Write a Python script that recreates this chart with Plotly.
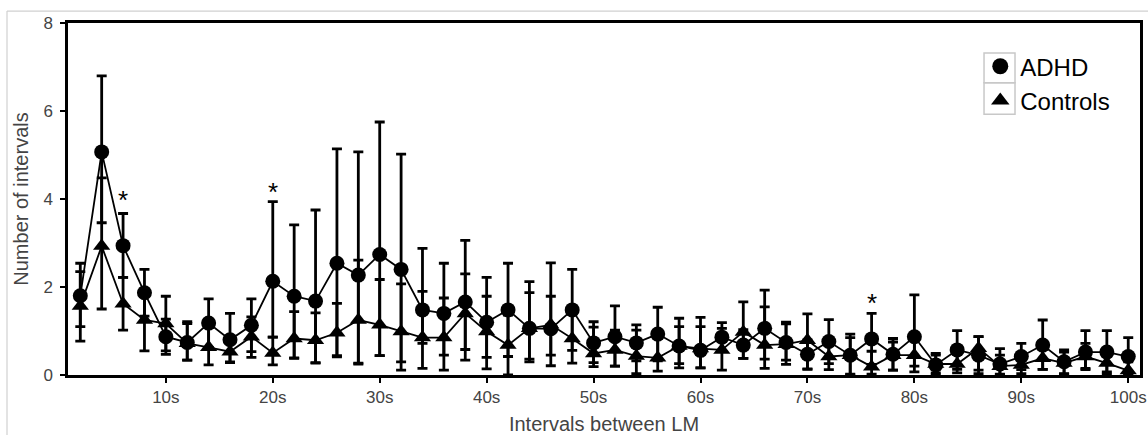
import plotly.graph_objects as go

intervals = list(range(2, 101, 2))
tick_vals = [10, 20, 30, 40, 50, 60, 70, 80, 90, 100]
tick_text = ["10s", "20s", "30s", "40s", "50s", "60s", "70s", "80s", "90s", "100s"]

adhd_mean = [1.80, 5.07, 2.94, 1.87, 0.87, 0.74, 1.18, 0.80, 1.13, 2.13,
             1.79, 1.68, 2.54, 2.27, 2.74, 2.40, 1.48, 1.40, 1.66, 1.20,
             1.48, 1.06, 1.05, 1.48, 0.73, 0.87, 0.73, 0.93, 0.66, 0.56,
             0.86, 0.68, 1.06, 0.74, 0.47, 0.76, 0.45, 0.82, 0.47, 0.87,
             0.23, 0.57, 0.45, 0.25, 0.42, 0.68, 0.30, 0.52, 0.52, 0.42]
adhd_err_plus = [0.74, 1.73, 0.73, 0.53, 0.40, 0.47, 0.55, 0.60, 0.60, 1.81,
                 1.62, 2.07, 2.60, 2.80, 3.01, 2.62, 1.40, 1.14, 1.40, 1.02,
                 1.06, 1.06, 1.50, 0.92, 0.48, 0.70, 0.41, 0.61, 0.63, 0.75,
                 0.33, 0.35, 0.87, 0.46, 0.33, 0.50, 0.48, 0.58, 0.36, 0.95,
                 0.26, 0.44, 0.42, 0.35, 0.30, 0.57, 0.27, 0.49, 0.49, 0.43]
adhd_err_minus = [0.70, 1.61, 0.72, 0.53, 0.40, 0.40, 0.55, 0.50, 0.60, 1.27,
                  1.40, 1.40, 2.10, 2.00, 2.30, 2.10, 0.76, 0.95, 1.08, 0.80,
                  1.06, 0.76, 0.60, 0.92, 0.45, 0.67, 0.41, 0.61, 0.50, 0.40,
                  0.33, 0.30, 0.70, 0.40, 0.33, 0.50, 0.45, 0.58, 0.36, 0.80,
                  0.23, 0.44, 0.42, 0.25, 0.30, 0.55, 0.27, 0.40, 0.45, 0.40]

ctrl_mean = [1.57, 2.93, 1.62, 1.25, 1.17, 0.72, 0.63, 0.53, 0.87, 0.50,
             0.83, 0.79, 0.96, 1.25, 1.14, 0.99, 0.85, 0.85, 1.40, 0.99,
             0.68, 1.06, 1.14, 0.83, 0.49, 0.57, 0.43, 0.39, 0.66, 0.60,
             0.57, 0.98, 0.68, 0.70, 0.79, 0.42, 0.45, 0.19, 0.45, 0.45,
             0.25, 0.25, 0.61, 0.20, 0.23, 0.38, 0.27, 0.42, 0.27, 0.10]
ctrl_err_plus = [0.78, 1.55, 0.60, 0.70, 0.62, 0.45, 0.45, 0.30, 0.45, 0.36,
                 0.61, 0.62, 0.67, 1.36, 1.03, 1.08, 1.05, 0.90, 0.90, 0.80,
                 0.68, 0.81, 0.65, 0.60, 0.60, 0.45, 0.59, 0.45, 0.44, 0.50,
                 0.49, 0.68, 0.87, 0.46, 0.60, 0.40, 0.40, 0.35, 0.30, 0.40,
                 0.20, 0.30, 0.26, 0.25, 0.25, 0.35, 0.25, 0.30, 0.30, 0.20]
ctrl_err_minus = [0.80, 1.43, 0.60, 0.70, 0.62, 0.38, 0.40, 0.25, 0.47, 0.27,
                  0.45, 0.52, 0.55, 1.00, 0.70, 0.88, 0.70, 0.74, 1.06, 0.85,
                  0.68, 0.70, 0.93, 0.56, 0.30, 0.37, 0.40, 0.30, 0.40, 0.44,
                  0.46, 0.60, 0.53, 0.46, 0.66, 0.30, 0.43, 0.17, 0.34, 0.25,
                  0.20, 0.20, 0.50, 0.18, 0.20, 0.25, 0.25, 0.27, 0.25, 0.10]

sig_x = [6, 20, 76]
sig_y = [4.09, 4.28, 1.76]

FONT = "Liberation Sans, Arial, sans-serif"

fig = go.Figure()
fig.add_trace(go.Scatter(
    x=intervals, y=ctrl_mean, name="Controls", mode="lines+markers", showlegend=False,
    line=dict(color="black", width=1.8),
    marker=dict(symbol="triangle-up", size=15, color="black"),
    error_y=dict(type="data", symmetric=False, array=ctrl_err_plus,
                 arrayminus=ctrl_err_minus, color="black", thickness=2.8, width=5),
))
fig.add_trace(go.Scatter(
    x=intervals, y=adhd_mean, name="ADHD", mode="lines+markers", showlegend=False,
    line=dict(color="black", width=1.8),
    marker=dict(symbol="circle", size=15, color="black"),
    error_y=dict(type="data", symmetric=False, array=adhd_err_plus,
                 arrayminus=adhd_err_minus, color="black", thickness=2.8, width=5),
))
# legend entries (markers only)
fig.add_trace(go.Scatter(x=[None], y=[None], name="ADHD", mode="markers",
                         marker=dict(symbol="circle", size=17, color="black")))
fig.add_trace(go.Scatter(x=[None], y=[None], name="Controls", mode="markers",
                         marker=dict(symbol="triangle-up", size=17, color="black")))

for sx, sy in zip(sig_x, sig_y):
    fig.add_annotation(x=sx, y=sy, text="*", showarrow=False,
                       font=dict(size=26, color="black", family=FONT),
                       yanchor="middle", yshift=-5)

fig.update_layout(
    width=1148, height=435,
    margin=dict(l=68, r=8, t=23, b=60),
    paper_bgcolor="white", plot_bgcolor="white",
    font=dict(family=FONT, color="#333333"),
    legend=dict(x=0.851, xanchor="left", y=0.94, yanchor="top",
                font=dict(size=24, color="black", family=FONT),
                bgcolor="rgba(0,0,0,0)", borderwidth=0, tracegroupgap=0),
    xaxis=dict(range=[0.85, 101.1], tickvals=tick_vals, ticktext=tick_text,
               automargin=False,
               showgrid=False, zeroline=False, showline=True, linecolor="black",
               linewidth=2.5, mirror=True, ticks="outside", ticklen=5, tickwidth=2,
               tickcolor="black", tickfont=dict(size=17, color="#444444"),
               title=dict(text="Intervals between LM", font=dict(size=20, color="#444444"),
                          standoff=20)),
    yaxis=dict(range=[0, 8], tickvals=[0, 2, 4, 6, 8],
               automargin=False,
               showgrid=False, zeroline=False, showline=True, linecolor="black",
               linewidth=2.5, mirror=True, ticks="outside", ticklen=5, tickwidth=2,
               tickcolor="black", tickfont=dict(size=17, color="#444444"),
               ticklabelstandoff=4,
               title=dict(text="Number of intervals", font=dict(size=20, color="#444444"),
                          standoff=10)),
)

# legend symbol boxes
for y0, y1 in [(0.830, 0.915), (0.741, 0.830)]:
    fig.add_shape(type="rect", xref="paper", yref="paper",
                  x0=0.8545, x1=0.8834, y0=y0, y1=y1,
                  line=dict(color="#c8c8c8", width=1.5), fillcolor="rgba(0,0,0,0)")

# outer light frame of the figure
fig.add_shape(type="line", xref="paper", yref="paper", x0=-0.0569, x1=1.01,
              y0=1.034, y1=1.034, line=dict(color="#d0d0d0", width=1.2))
fig.add_shape(type="line", xref="paper", yref="paper", x0=-0.0569, x1=-0.0569,
              y0=-0.2, y1=1.034, line=dict(color="#d0d0d0", width=1.2))

fig.write_html("out.html", config={"displayModeBar": False},
               post_script="document.body.style.margin='0';document.body.style.overflow='hidden';")
